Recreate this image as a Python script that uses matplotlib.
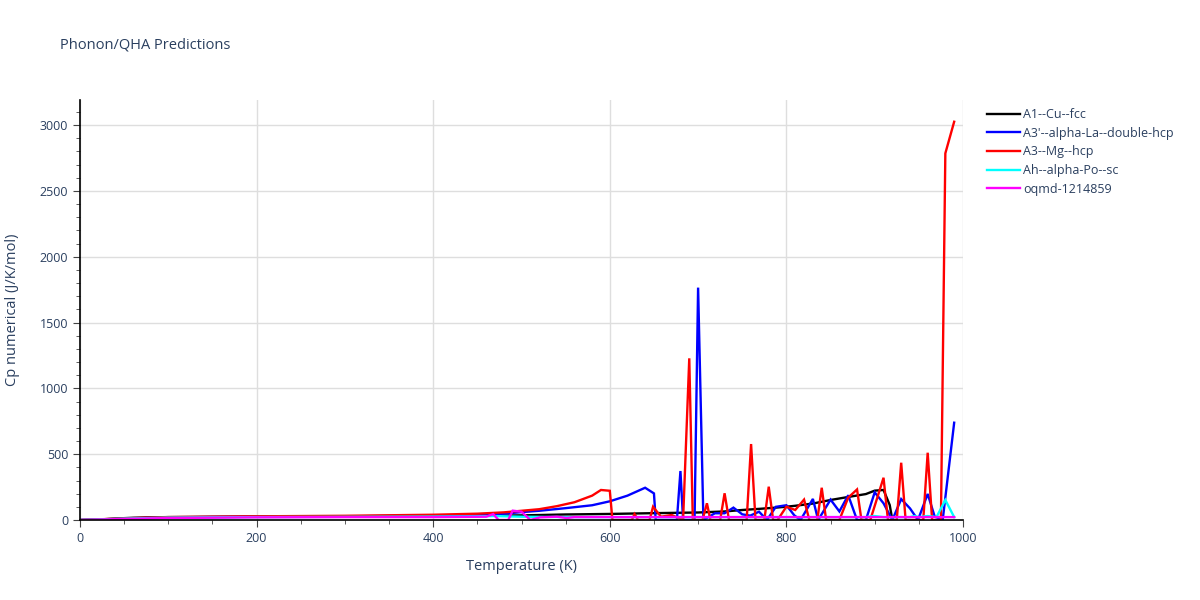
import matplotlib
matplotlib.use("Agg")
import matplotlib.pyplot as plt
from matplotlib.ticker import MultipleLocator

plt.rcParams['font.family'] = ['Open Sans', 'DejaVu Sans']

TXT = '#2a3f5f'

# ---- data ----
cu_T = [0, 10, 20, 30, 40, 50, 60, 80, 100, 150, 200, 300, 400, 500, 550, 600, 650, 700,
        730, 750, 770, 790, 800, 810, 830, 850, 870, 890, 900, 910, 917, 920]
cu_cp = [0, 1, 3, 7, 11, 14, 17, 20, 22, 24, 25, 27, 30, 35, 42, 46, 52, 57,
         65, 76, 85, 95, 101, 108, 125, 152, 175, 197, 223, 228, 114, 0]

la_T = [0, 50, 100, 200, 300, 400, 450, 480, 500, 520, 550, 580, 600, 620, 640, 650, 652,
        676, 680, 683, 696, 700, 706, 719, 730, 740, 750, 759, 769, 778, 788, 800, 809, 816,
        830, 836, 850, 860, 870, 880, 890, 900, 910, 920, 930, 940, 949, 960, 968, 977, 990]
la_cp = [0, 10, 20, 25, 28, 33, 38, 48, 60, 70, 90, 112, 142, 185, 245, 202, 0,
         0, 372, 0, 0, 1765, 0, 51, 51, 94, 43, 33, 63, 0, 100, 112, 35, 0,
         160, 0, 155, 65, 188, 0, 0, 210, 127, 0, 159, 88, 0, 198, 25, 0, 739]

mg_T = [0, 50, 100, 200, 300, 400, 450, 480, 500, 520, 540, 560, 580, 590, 600, 603,
        625, 628, 632, 645, 649, 658, 670, 683, 690, 694, 705, 710, 714, 725, 730, 735,
        755, 760, 765, 775, 780, 785, 790, 800, 810, 820, 826, 835, 840, 845, 860, 870,
        880, 885, 895, 910, 915, 925, 930, 935, 955, 960, 965, 975, 980, 990]
mg_cp = [0, 12, 22, 28, 32, 40, 48, 58, 70, 82, 105, 135, 185, 228, 222, 0,
         0, 45, 0, 0, 101, 25, 38, 0, 1228, 0, 0, 127, 0, 0, 203, 0,
         0, 577, 0, 0, 253, 0, 0, 101, 76, 155, 0, 0, 245, 0, 0, 170,
         232, 0, 0, 321, 0, 0, 435, 0, 0, 511, 0, 0, 2785, 3025]

po_T = [0, 50, 100, 200, 300, 400, 450, 470, 500, 550, 600, 700, 800, 890, 900, 910,
        940, 945, 950, 960, 970, 980, 990]
po_cp = [0, 10, 18, 22, 24, 26, 28, 30, 25, 22, 22, 22, 22, 22, 30, 22,
         22, 30, 22, 30, 22, 152, 22]

oq_T = [0, 50, 100, 200, 300, 400, 460, 468, 474, 485, 490, 500, 510, 521, 540, 551,
        560, 600, 700, 800, 900, 990]
oq_cp = [0, 8, 15, 20, 22, 22, 25, 45, 0, 0, 71, 63, 0, 20, 25, 15,
         22, 22, 22, 22, 22, 22]

names = ["A1--Cu--fcc", "A3'--alpha-La--double-hcp", "A3--Mg--hcp",
         "Ah--alpha-Po--sc", "oqmd-1214859"]
colors = ['black', 'blue', 'red', 'cyan', 'magenta']

fig = plt.figure(figsize=(12, 6), dpi=100)
ax = fig.add_axes([80/1200, 80/600, 883/1200, 420/600])

series = [(cu_T, cu_cp), (la_T, la_cp), (mg_T, mg_cp), (po_T, po_cp), (oq_T, oq_cp)]
for (t, v), n, c in zip(series, names, colors):
    ax.plot(t, v, color=c, lw=1.7, label=n, solid_joinstyle='miter')

ax.set_xlim(0, 1000)
ax.set_ylim(0, 3190)
ax.xaxis.set_major_locator(MultipleLocator(200))
ax.xaxis.set_minor_locator(MultipleLocator(50))
ax.yaxis.set_major_locator(MultipleLocator(500))
ax.yaxis.set_minor_locator(MultipleLocator(100))
ax.grid(True, which='major', color='#dedede', lw=1)
ax.set_axisbelow(True)
for s in ['top', 'right']:
    ax.spines[s].set_visible(False)
for s in ['left', 'bottom']:
    ax.spines[s].set_color('black')
    ax.spines[s].set_linewidth(1.2)
ax.tick_params(which='major', length=5, color='#444444', labelcolor=TXT, labelsize=9, direction='out')
ax.tick_params(which='minor', length=3, color='#444444', direction='out')
ax.set_xlabel('Temperature (K)', color=TXT, fontsize=10.5, labelpad=10)
ax.set_ylabel('Cp numerical (J/K/mol)', color=TXT, fontsize=10.5, labelpad=14)

fig.text(60/1200, 1 - 45/600, 'Phonon/QHA Predictions', color=TXT, fontsize=10.5, va='center', ha='left')

fig.legend(loc='upper left', bbox_to_anchor=(982/1200, 1 - 103/600), frameon=False,
           fontsize=9, labelcolor=TXT, handlelength=2.6, labelspacing=0.45,
           handletextpad=0.3, borderaxespad=0)

fig.savefig('out.png', dpi=100)
